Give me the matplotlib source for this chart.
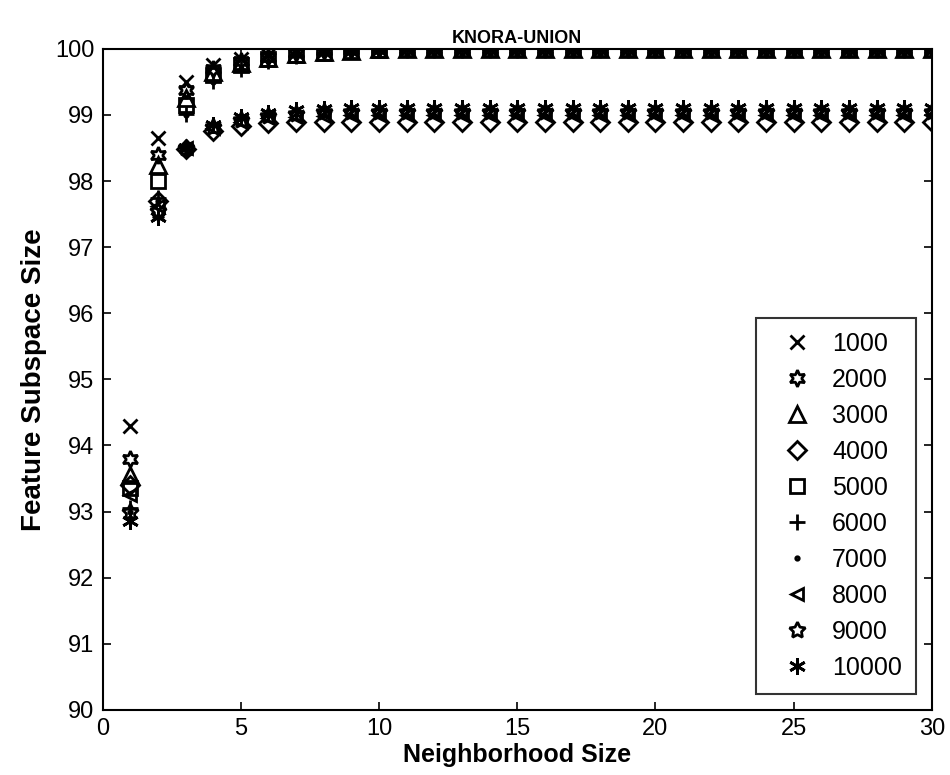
import matplotlib.pyplot as plt
import numpy as np

plt.rcParams['font.family'] = ['Liberation Sans', 'DejaVu Sans']

neighborhood = np.arange(1, 31)
labels = ['1000', '2000', '3000', '4000', '5000', '6000', '7000', '8000', '9000', '10000']

s1000 = [94.30, 98.65, 99.50, 99.75, 99.85, 99.90, 99.95, 99.97, 99.98, 100.0,
         100.0, 100.0, 100.0, 100.0, 100.0, 100.0, 100.0, 100.0, 100.0, 100.0,
         100.0, 100.0, 100.0, 100.0, 100.0, 100.0, 100.0, 100.0, 100.0, 100.0]
s2000 = [93.80, 98.40, 99.38, 99.70, 99.82, 99.88, 99.93, 99.96, 99.98, 99.99,
         100.0, 100.0, 100.0, 100.0, 100.0, 100.0, 100.0, 100.0, 100.0, 100.0,
         100.0, 100.0, 100.0, 100.0, 100.0, 100.0, 100.0, 100.0, 100.0, 100.0]
s3000 = [93.55, 98.25, 99.25, 99.65, 99.78, 99.86, 99.92, 99.95, 99.97, 99.99,
         100.0, 100.0, 100.0, 100.0, 100.0, 100.0, 100.0, 100.0, 100.0, 100.0,
         100.0, 100.0, 100.0, 100.0, 100.0, 100.0, 100.0, 100.0, 100.0, 100.0]
s4000 = [93.40, 97.70, 98.48, 98.75, 98.84, 98.88, 98.89, 98.90, 98.90, 98.90,
         98.90, 98.90, 98.90, 98.90, 98.90, 98.90, 98.90, 98.90, 98.90, 98.90,
         98.90, 98.90, 98.90, 98.90, 98.90, 98.90, 98.90, 98.90, 98.90, 98.90]
s5000 = [93.35, 98.00, 99.15, 99.60, 99.75, 99.85, 99.90, 99.94, 99.97, 99.98,
         100.0, 100.0, 100.0, 100.0, 100.0, 100.0, 100.0, 100.0, 100.0, 100.0,
         100.0, 100.0, 100.0, 100.0, 100.0, 100.0, 100.0, 100.0, 100.0, 100.0]
s6000 = [93.05, 97.75, 99.02, 99.52, 99.70, 99.82, 99.89, 99.94, 99.96, 99.98,
         99.99, 100.0, 100.0, 100.0, 100.0, 100.0, 100.0, 100.0, 100.0, 100.0,
         100.0, 100.0, 100.0, 100.0, 100.0, 100.0, 100.0, 100.0, 100.0, 100.0]
s7000 = [93.00, 97.70, 99.00, 99.50, 99.70, 99.82, 99.89, 99.93, 99.96, 99.98,
         99.99, 100.0, 100.0, 100.0, 100.0, 100.0, 100.0, 100.0, 100.0, 100.0,
         100.0, 100.0, 100.0, 100.0, 100.0, 100.0, 100.0, 100.0, 100.0, 100.0]
s8000 = [93.25, 97.62, 98.50, 98.80, 98.90, 98.95, 98.97, 98.99, 99.00, 99.00,
         99.00, 99.00, 99.00, 99.00, 99.00, 99.00, 99.00, 99.00, 99.00, 99.00,
         99.00, 99.00, 99.00, 99.00, 99.00, 99.00, 99.00, 99.00, 99.00, 99.00]
s9000 = [93.00, 97.55, 98.50, 98.82, 98.93, 98.98, 99.02, 99.04, 99.05, 99.05,
         99.05, 99.05, 99.05, 99.05, 99.05, 99.05, 99.05, 99.05, 99.05, 99.05,
         99.05, 99.05, 99.05, 99.05, 99.05, 99.05, 99.05, 99.05, 99.05, 99.05]
s10000 = [92.85, 97.45, 98.50, 98.85, 98.97, 99.03, 99.07, 99.09, 99.10, 99.10,
          99.10, 99.10, 99.10, 99.10, 99.10, 99.10, 99.10, 99.10, 99.10, 99.10,
          99.10, 99.10, 99.10, 99.10, 99.10, 99.10, 99.10, 99.10, 99.10, 99.10]

series = [s1000, s2000, s3000, s4000, s5000, s6000, s7000, s8000, s9000, s10000]
# MATLAB-like markers: x, hexagram, ^, diamond, square, +, ., <, pentagram, asterisk
markers = ['x', (6, 1, 0), '^', 'D', 's', '+', '.', '<', (5, 1, 0), (6, 2, 0)]
sizes = [10, 12, 11, 9, 10, 12, 5, 9, 12, 12]

fig = plt.figure(figsize=(9.5, 7.75), dpi=100)
ax = fig.add_axes([0.108, 0.084, 0.873, 0.853])

for s, m, ms, lab in zip(series, markers, sizes, labels):
    ax.plot(neighborhood, s, linestyle='none', marker=m, markersize=ms,
            markerfacecolor='none', markeredgecolor='black', markeredgewidth=2.0,
            color='black', label=lab)

ax.set_xlim(0, 30)
ax.set_ylim(90, 100)
ax.set_xticks(np.arange(0, 31, 5))
ax.set_yticks(np.arange(90, 101, 1))
ax.tick_params(direction='in', top=True, right=True, length=6, width=1.2,
               labelsize=17, pad=6)
for sp in ax.spines.values():
    sp.set_linewidth(1.5)

ax.set_title('KNORA-UNION', fontsize=13, fontweight='bold', pad=4)
ax.set_xlabel('Neighborhood Size', fontsize=18, fontweight='bold', labelpad=2)
ax.set_ylabel('Feature Subspace Size', fontsize=20, fontweight='bold', labelpad=6)

leg = ax.legend(loc='lower right', fontsize=18, frameon=True, fancybox=False,
                edgecolor='black', borderpad=0.55, labelspacing=0.48,
                handletextpad=0.3, borderaxespad=0.65, handlelength=2.2)
leg.get_frame().set_linewidth(1.5)

fig.savefig('out.png', dpi=100)
